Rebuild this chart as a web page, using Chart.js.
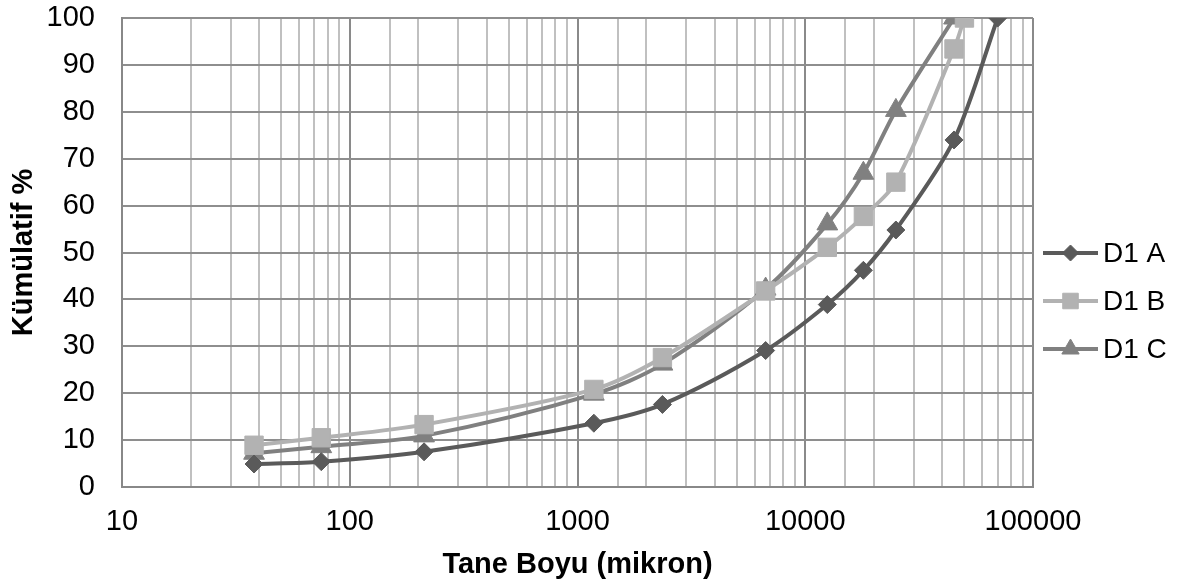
<!DOCTYPE html>
<html>
<head>
<meta charset="utf-8">
<script src="https://cdn.jsdelivr.net/npm/chart.js@4"></script>
<style>
  html, body { margin: 0; padding: 0; background: #fff; }
  #wrap { width: 1183px; height: 584px; }
</style>
</head>
<body>
<div id="wrap"><canvas id="c" width="1183" height="584"></canvas></div>
<script>
// Sieve sizes (micron) and cumulative passing (%) for each sample
const sizesA = [38, 75, 212, 1180, 2360, 6700, 12500, 18000, 25000, 45000, 70000];
const passA  = [4.9, 5.4, 7.5, 13.6, 17.6, 29.1, 38.9, 46.2, 54.8, 74.0, 100];

const sizesB = [38, 75, 212, 1180, 2360, 6700, 12500, 18000, 25000, 45000, 50000];
const passB  = [8.9, 10.5, 13.3, 20.8, 27.6, 41.8, 51.1, 57.7, 65.0, 93.4, 100];

const sizesC = [38, 75, 212, 1180, 2360, 6700, 12500, 18000, 25000, 45000];
const passC  = [7.2, 8.6, 10.9, 19.8, 26.2, 42.2, 56.1, 66.9, 80.3, 100];

const seriesNames = ['D1 A', 'D1 B', 'D1 C'];
const xTickLabels = [10, 100, 1000, 10000, 100000];
const yTickLabels = [0, 10, 20, 30, 40, 50, 60, 70, 80, 90, 100];

const xTitle = 'Tane Boyu (mikron)';
const yTitle = 'Kümülatif %';

const FONT = "'Liberation Sans', Arial, sans-serif";

function pairs(xs, ys) {
  return xs.map((x, i) => ({ x: x, y: ys[i] }));
}

const styles = [
  { color: '#5a5a5a', pointStyle: 'rectRot', radius: 9 },
  { color: '#b2b2b2', pointStyle: 'rect', radius: 13 },
  { color: '#808080', pointStyle: 'triangle', radius: 12 }
];

const dataSets = [pairs(sizesA, passA), pairs(sizesB, passB), pairs(sizesC, passC)];

const datasets = dataSets.map((d, i) => ({
  label: seriesNames[i],
  data: d,
  showLine: true,
  borderColor: styles[i].color,
  backgroundColor: styles[i].color,
  borderWidth: 4,
  tension: 0.3,
  pointStyle: styles[i].pointStyle,
  pointRadius: styles[i].radius,
  pointHoverRadius: styles[i].radius,
  pointBorderWidth: 1,
  pointBorderColor: styles[i].color,
  pointBackgroundColor: styles[i].color
}));

// Legend drawn on the right: line sample with the series marker and its name
const sideLegend = {
  id: 'sideLegend',
  afterDraw(chart) {
    const ctx = chart.ctx;
    const rowsY = [253, 301, 349];
    const x0 = 1043, x1 = 1098, xm = (x0 + x1) / 2;
    const markerSizes = [8, 11, 10];
    chart.data.datasets.forEach((ds, i) => {
      const y = rowsY[i];
      ctx.save();
      ctx.strokeStyle = ds.borderColor;
      ctx.lineWidth = 4;
      ctx.beginPath();
      ctx.moveTo(x0, y);
      ctx.lineTo(x1, y);
      ctx.stroke();
      ctx.fillStyle = ds.backgroundColor;
      ctx.strokeStyle = ds.borderColor;
      ctx.lineWidth = 1;
      Chart.helpers.drawPoint(ctx, {
        pointStyle: ds.pointStyle,
        radius: markerSizes[i],
        rotation: 0,
        borderWidth: 1
      }, xm, y);
      ctx.fillStyle = '#000';
      ctx.font = '28px ' + FONT;
      ctx.textAlign = 'left';
      ctx.textBaseline = 'middle';
      ctx.fillText(ds.label, 1103, y + 1);
      ctx.restore();
    });
  }
};

new Chart(document.getElementById('c'), {
  type: 'scatter',
  data: { datasets: datasets },
  options: {
    responsive: false,
    animation: false,
    events: [],
    layout: { padding: { left: 0, right: 150, top: 18, bottom: 0 } },
    plugins: {
      legend: { display: false },
      tooltip: { enabled: false }
    },
    scales: {
      x: {
        type: 'logarithmic',
        min: xTickLabels[0],
        max: xTickLabels[xTickLabels.length - 1],
        afterFit(scale) {
          scale.height = 97;
          scale.paddingLeft = 0;
          scale.paddingRight = 0;
        },
        border: { display: true, color: '#888888', width: 2 },
        grid: {
          drawTicks: false,
          lineWidth: 2,
          color(ctx) {
            const v = ctx.tick ? ctx.tick.value : 0;
            return xTickLabels.includes(v) ? '#8a8a8a' : '#c0c0c0';
          }
        },
        ticks: {
          autoSkip: false,
          maxRotation: 0,
          padding: 18,
          color: '#000',
          font: { family: FONT, size: 29 },
          callback(value) {
            return xTickLabels.includes(value) ? String(value) : '';
          }
        },
        title: {
          display: true,
          text: xTitle,
          color: '#000',
          font: { family: FONT, size: 29, weight: 'bold' },
          padding: { top: 0, bottom: 2 }
        }
      },
      y: {
        min: yTickLabels[0],
        max: yTickLabels[yTickLabels.length - 1],
        afterFit(scale) {
          scale.width = 122;
          scale.paddingTop = 0;
          scale.paddingBottom = 0;
        },
        afterBuildTicks(scale) {
          scale.ticks = yTickLabels.map(v => ({ value: v }));
        },
        border: { display: true, color: '#888888', width: 2 },
        grid: {
          drawTicks: false,
          lineWidth: 2,
          color: '#8e8e8e'
        },
        ticks: {
          padding: 27,
          color: '#000',
          font: { family: FONT, size: 29 }
        },
        title: {
          display: true,
          text: yTitle,
          color: '#000',
          font: { family: FONT, size: 29, weight: 'bold' },
          padding: { top: 7, bottom: 0 }
        }
      }
    }
  },
  plugins: [sideLegend]
});
</script>
</body>
</html>
